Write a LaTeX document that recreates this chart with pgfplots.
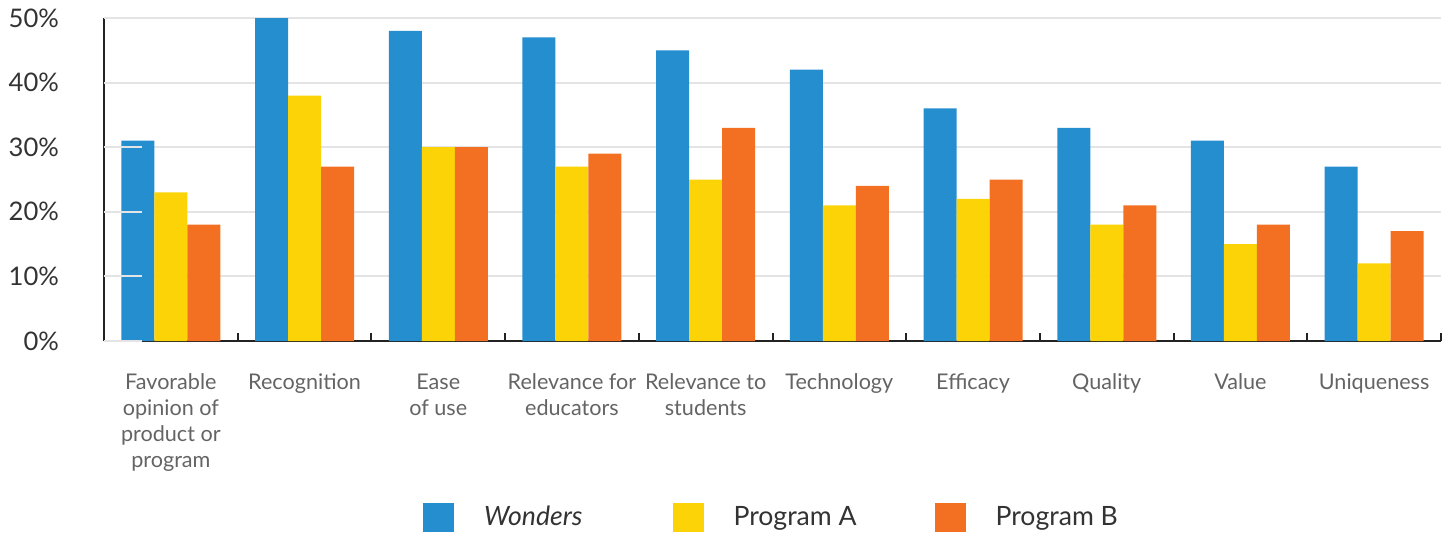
\documentclass[border=0pt]{standalone}
\usepackage{pgfplots}
\pgfplotsset{compat=1.18}
\usepackage{fontspec}
\setmainfont{Lato}

\definecolor{wblue}{RGB}{37,142,207}
\definecolor{pyellow}{RGB}{252,211,7}
\definecolor{porange}{RGB}{243,112,34}
\definecolor{gridgray}{RGB}{228,228,230}
\definecolor{axisblack}{RGB}{34,34,34}
\definecolor{labgray}{RGB}{100,100,100}
\definecolor{tickdark}{RGB}{51,51,51}

\begin{document}
\begin{tikzpicture}
\begin{axis}[
  at={(0,0)}, anchor=south west,
  scale only axis,
  width=668.5pt, height=161.5pt,
  set layers,
  ybar=0pt, bar width=16.5pt,
  xmin=-0.5, xmax=9.5,
  ymin=0, ymax=50,
  axis x line*=bottom, axis y line*=left,
  axis line style={on layer=axis foreground, draw=axisblack},
  x axis line style={line width=1.2pt},
  y axis line style={line width=1pt},
  xtick=data,
  xticklabels={{Favorable\\opinion of\\product or\\program},Recognition,{Ease\\of use},{Relevance for\\educators},{Relevance to\\students},Technology,Efficacy,Quality,Value,Uniqueness},
  major x tick style={draw=none},
  minor xtick={0.5,1.5,...,9.5},
  minor x tick style={draw=axisblack, line width=1pt},
  minor tick length=4pt,
  tick align=inside,
  xticklabel style={font=\fontsize{10.8}{12.85}\selectfont, text=labgray, align=center, anchor=north, yshift=-13pt},
  ytick={0,10,20,30,40,50},
  yticklabels={0\%,10\%,20\%,30\%,40\%,50\%},
  ytick style={draw=none},
  yticklabel style={font=\fontsize{12.8}{15}\selectfont, text=tickdark, anchor=east, xshift=-19pt},
  ymajorgrids,
  grid style={draw=gridgray, line width=1pt},
  legend columns=3,
  legend style={at={(axis description cs:0.5,0)}, anchor=center, yshift=-88pt,
    draw=none, font=\fontsize{13.3}{15}\selectfont, text=tickdark,
    /tikz/every odd column/.append style={column sep=13pt},
    /tikz/every even column/.append style={column sep=37pt}},
  legend image code/.code={\fill[#1] (0pt,-7.25pt) rectangle (15.5pt,7.25pt);},
]
\addplot[fill=wblue, draw=none] coordinates {(0,31) (1,50) (2,48) (3,47) (4,45) (5,42) (6,36) (7,33) (8,31) (9,27)};
\addplot[fill=pyellow, draw=none] coordinates {(0,23) (1,38) (2,30) (3,27) (4,25) (5,21) (6,22) (7,18) (8,15) (9,12)};
\addplot[fill=porange, draw=none] coordinates {(0,18) (1,27) (2,30) (3,29) (4,33) (5,24) (6,25) (7,21) (8,18) (9,17)};
\legend{\textit{Wonders}\rule{6pt}{0pt}, Program A, Program B}
\pgfplotsinvokeforeach{0,10,20,30,40,50}{
  \draw[gridgray, line width=1pt] (axis cs:-0.5,#1) -- ++(-14.5pt,0);
}
\end{axis}
\path[use as bounding box] (-52pt,-95.5pt) rectangle (673pt,170.5pt);
\end{tikzpicture}
\end{document}
